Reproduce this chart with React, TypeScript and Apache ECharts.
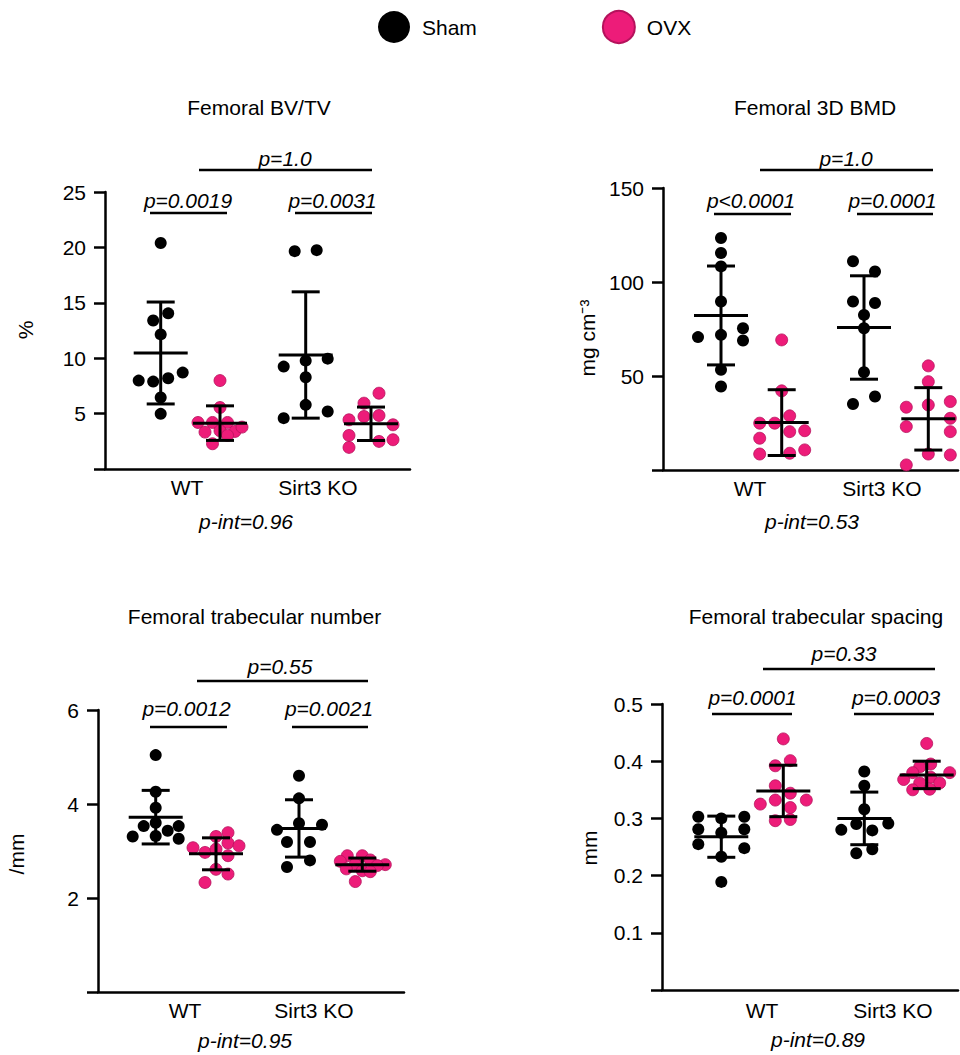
import React, { useEffect, useRef } from 'react';
import * as echarts from 'echarts';

// ---------- Data ----------
const genotypes = ['WT', 'Sirt3 KO'];
const groupNames = ['Sham', 'OVX'];

// Femoral BV/TV (%)
const bvtvWTSham = [20.4, 14.05, 13.4, 12.15, 7.98, 7.89, 8.19, 8.7, 6.45, 4.98];
const bvtvWTOvx = [7.98, 5.55, 4.2, 4.2, 4.2, 3.33, 3.45, 3.39, 3.03, 3.78, 2.28];
const bvtvKOSham = [19.66, 19.75, 9.24, 9.78, 9.96, 8.28, 5.79, 5.19, 4.59];
const bvtvKOOvx = [6.84, 5.94, 4.44, 4.74, 4.83, 3.99, 3.03, 2.49, 2.64, 1.95];
const bvtvMean = [10.47, 4.14, 10.29, 4.08];
const bvtvSD = [4.6, 1.56, 5.7, 1.51];

// Femoral 3D BMD (mg cm-3)
const bmdWTSham = [123.4, 115.4, 108.3, 89.6, 70.7, 71.9, 75.4, 68.9, 53.3, 44.4];
const bmdWTOvx = [69.2, 42.1, 28.8, 24.9, 24.9, 20.9, 20.4, 16.9, 10.7, 8.5, 8.9];
const bmdKOSham = [111.0, 105.6, 89.6, 88.8, 82.5, 75.4, 52.0, 35.1, 39.1];
const bmdKOOvx = [55.4, 47.0, 33.4, 34.6, 36.4, 23.1, 27.5, 20.4, 8.5, 8.0, 2.7];
const bmdMean = [82.2, 25.2, 75.8, 27.2];
const bmdSD = [26.3, 17.5, 27.5, 16.6];

// Femoral trabecular number (/mm)
const tbnWTSham = [5.04, 4.26, 3.92, 3.6, 3.53, 3.53, 3.43, 3.31, 3.32, 3.26];
const tbnWTOvx = [3.39, 3.31, 3.07, 2.97, 3.04, 3.17, 3.11, 2.9, 2.61, 2.51, 2.33];
const tbnKOSham = [4.6, 4.12, 3.59, 3.45, 3.56, 3.19, 3.19, 2.66, 2.8];
const tbnKOOvx = [2.9, 2.9, 2.81, 2.78, 2.72, 2.71, 2.69, 2.62, 2.58, 2.56, 2.35];
const tbnMean = [3.72, 2.94, 3.48, 2.71];
const tbnSD = [0.57, 0.34, 0.61, 0.14];

// Femoral trabecular spacing (mm)
const tbspWTSham = [0.303, 0.3, 0.303, 0.281, 0.275, 0.281, 0.255, 0.248, 0.233, 0.189];
const tbspWTOvx = [0.439, 0.401, 0.392, 0.357, 0.344, 0.325, 0.332, 0.332, 0.319, 0.296, 0.298];
const tbspKOSham = [0.382, 0.357, 0.316, 0.28, 0.29, 0.291, 0.279, 0.239, 0.246];
const tbspKOOvx = [0.431, 0.395, 0.39, 0.368, 0.38, 0.38, 0.372, 0.362, 0.362, 0.35, 0.351];
const tbspMean = [0.268, 0.348, 0.3, 0.376];
const tbspSD = [0.036, 0.045, 0.046, 0.024];

// p-value texts
const bvtvP = ['p=0.0019', 'p=0.0031', 'p=1.0', 'p-int=0.96'];
const bmdP = ['p<0.0001', 'p=0.0001', 'p=1.0', 'p-int=0.53'];
const tbnP = ['p=0.0012', 'p=0.0021', 'p=0.55', 'p-int=0.95'];
const tbspP = ['p=0.0001', 'p=0.0003', 'p=0.33', 'p-int=0.89'];

// ---------- Layout (horizontal jitter of dots, px) ----------
const bvtvJit = [
  [0, 7.5, -7.5, 0, -22, -7.5, 7.5, 22, 0, 0],
  [0, 0, -22, -7.5, 7.5, -15, 0, 15, 7.5, 22, -7.5],
  [-11, 11, -22, 0, 22, 0, 0, 22, -22],
  [8, -7, -22, -7, 8, 22, -22, 8, 22, -22],
];
const bmdJit = [
  [0, 0, 0, 0, -23, 0, 22, 22, 0, 0],
  [0, 0, 8, -22, -7, 23, 8, -22, 23, -22, 8],
  [-11, 11, -11, 11, 0, 0, 0, -11, 11],
  [0, 0, -22, 0, 22, -22, 22, 22, 0, 22, -22],
];
const tbnJit = [
  [0, 0, 0, 0, -12, 23, 12, -23, 0, 23],
  [12, 0, -23, -11, 0, 12, 23, 12, 0, 12, -11],
  [0, 0, 0, -22, 23, -12, 11, -12, 11],
  [-15, 0, 8, -22, -7, 23, 15, -16, 0, 8, -7],
];
const tbspJit = [
  [-23, 0, 23, -23, 0, 23, -23, 23, 0, 0],
  [0, 7, -8, -8, 7, -23, -8, 23, 7, -8, 7],
  [0, 0, 0, -23, -8, 24, 8, -8, 8],
  [0, 4, -7, -23, -14, 23, 4, -7, 13, -14, 3],
];

const FONT = '"Liberation Sans", Arial, Helvetica, sans-serif';
const FS = 21;
const PINK = '#ED1C79';
const PINK_BORDER = '#B5125C';

interface Panel {
  title: string;
  yName: string;
  groups: number[][];
  jit: number[][];
  mean: number[];
  sd: number[];
  p: string[];
  yMax: number;
  yInterval: number;
  decimals: number;
  grid: { left: number; top: number; width: number; height: number };
  centers: number[];
  labelPos: number[];
  labelMargin: number;
  titleXY: [number, number];
  pTopXY: [number, number];
  topLine: [number, number, number];
  pLeftXY: [number, number];
  pRightXY: [number, number];
  leftLine: [number, number, number];
  rightLine: [number, number, number];
  pIntXY: [number, number];
  yNameXY: [number, number];
}

const panels: Panel[] = [
  {
    title: 'Femoral BV/TV', yName: '%',
    groups: [bvtvWTSham, bvtvWTOvx, bvtvKOSham, bvtvKOOvx], jit: bvtvJit,
    mean: bvtvMean, sd: bvtvSD, p: bvtvP, yMax: 25, yInterval: 5, decimals: 0,
    grid: { left: 105, top: 192, width: 305, height: 277 },
    centers: [55.7, 115, 200.7, 266], labelPos: [82, 213], labelMargin: 8,
    titleXY: [259, 107], pTopXY: [285, 158], topLine: [199, 372, 170],
    pLeftXY: [188, 200], pRightXY: [332.5, 200], leftLine: [150, 227, 213], rightLine: [295, 372, 213],
    pIntXY: [246, 521], yNameXY: [25, 330],
  },
  {
    title: 'Femoral 3D BMD', yName: 'mg cm\u207B\u00B3',
    groups: [bmdWTSham, bmdWTOvx, bmdKOSham, bmdKOOvx], jit: bmdJit,
    mean: bmdMean, sd: bmdSD, p: bmdP, yMax: 150, yInterval: 50, decimals: 0,
    grid: { left: 663, top: 188, width: 295, height: 282 },
    centers: [58, 118.7, 201, 265.3], labelPos: [87, 219], labelMargin: 8,
    titleXY: [815, 107], pTopXY: [846, 158], topLine: [760, 933, 170],
    pLeftXY: [751, 200], pRightXY: [892.5, 200], leftLine: [714, 791, 214], rightLine: [857, 933, 214],
    pIntXY: [812, 521], yNameXY: [587, 338],
  },
  {
    title: 'Femoral trabecular number', yName: '/mm',
    groups: [tbnWTSham, tbnWTOvx, tbnKOSham, tbnKOOvx], jit: tbnJit,
    mean: tbnMean, sd: tbnSD, p: tbnP, yMax: 6, yInterval: 2, decimals: 0,
    grid: { left: 98, top: 710, width: 306, height: 282 },
    centers: [57.7, 118, 201, 264.3], labelPos: [87, 216], labelMargin: 8,
    titleXY: [254.5, 616], pTopXY: [280, 666], topLine: [197, 368, 681],
    pLeftXY: [186.5, 708], pRightXY: [329, 708], leftLine: [150, 227, 727], rightLine: [292, 368, 727],
    pIntXY: [245, 1040], yNameXY: [16, 854],
  },
  {
    title: 'Femoral trabecular spacing', yName: 'mm',
    groups: [tbspWTSham, tbspWTOvx, tbspKOSham, tbspKOOvx], jit: tbspJit,
    mean: tbspMean, sd: tbspSD, p: tbspP, yMax: 0.5, yInterval: 0.1, decimals: 1,
    grid: { left: 662, top: 704, width: 296, height: 286 },
    centers: [59.3, 121.3, 202.3, 264.7], labelPos: [100, 231], labelMargin: 10,
    titleXY: [816, 616], pTopXY: [844, 653], topLine: [763, 935, 669],
    pLeftXY: [752.5, 697.5], pRightXY: [896, 697.5], leftLine: [712, 792, 714], rightLine: [854, 934, 714],
    pIntXY: [818, 1039], yNameXY: [589, 848],
  },
];

function buildOption() {
  const grid: any[] = [];
  const xAxis: any[] = [];
  const yAxis: any[] = [];
  const series: any[] = [];
  const graphic: any[] = [];
  const axisLineStyle = { color: '#000', width: 2.5 };

  const txt = (text: string, x: number, y: number, italic = false, rotation = 0) => ({
    type: 'text', x, y, rotation, silent: true,
    style: {
      text, fill: '#000', font: `${italic ? 'italic ' : ''}${FS}px ${FONT}`,
      align: 'center', verticalAlign: 'middle',
    },
  });
  const hline = (l: [number, number, number]) => ({
    type: 'line', silent: true,
    shape: { x1: l[0], y1: l[2], x2: l[1], y2: l[2] },
    style: { stroke: '#000', lineWidth: 2.5 },
  });

  panels.forEach((pn, i) => {
    grid.push({ ...pn.grid, containLabel: false });
    const lp = pn.labelPos;
    xAxis.push({
      gridIndex: i, type: 'value', min: 0, max: pn.grid.width,
      axisLine: { show: true, onZero: false, lineStyle: axisLineStyle },
      axisTick: { show: false }, splitLine: { show: false },
      axisLabel: {
        customValues: lp,
        formatter: (v: number) => (Math.abs(v - lp[0]) < 0.01 ? genotypes[0] : genotypes[1]),
        margin: pn.labelMargin, fontSize: FS, color: '#000', fontFamily: FONT,
      },
    });
    yAxis.push({
      gridIndex: i, type: 'value', min: 0, max: pn.yMax, interval: pn.yInterval,
      axisLine: { show: true, lineStyle: axisLineStyle },
      axisTick: { show: true, length: 11, lineStyle: axisLineStyle },
      splitLine: { show: false },
      axisLabel: {
        formatter: (v: number) => (v === 0 ? '' : v.toFixed(pn.decimals)),
        margin: 19, fontSize: FS, color: '#000', fontFamily: FONT,
      },
    });
    const pts = (gi: number) =>
      pn.groups[gi].map((v, k) => [pn.centers[gi] + pn.jit[gi][k], v]);
    series.push({
      name: groupNames[0], type: 'scatter', xAxisIndex: i, yAxisIndex: i,
      symbol: 'circle', symbolSize: 12, z: 2,
      itemStyle: { color: '#000', opacity: 1 },
      data: [...pts(0), ...pts(2)],
    });
    series.push({
      name: groupNames[1], type: 'scatter', xAxisIndex: i, yAxisIndex: i,
      symbol: 'circle', symbolSize: 12, z: 2,
      itemStyle: { color: PINK, borderColor: PINK_BORDER, borderWidth: 0.8, opacity: 1 },
      data: [...pts(1), ...pts(3)],
    });
    series.push({
      type: 'custom', xAxisIndex: i, yAxisIndex: i, z: 3, silent: true,
      encode: { x: 0, y: 1 },
      data: pn.mean.map((m, gi) => [pn.centers[gi], m, pn.sd[gi]]),
      renderItem: (params: any, api: any) => {
        const x = api.value(0), m = api.value(1), s = api.value(2);
        const c = api.coord([x, m]);
        const t = api.coord([x, m + s]);
        const b = api.coord([x, m - s]);
        const style = { stroke: '#000', lineWidth: 3, fill: 'none' };
        return {
          type: 'group',
          children: [
            { type: 'line', shape: { x1: c[0] - 27, y1: c[1], x2: c[0] + 27, y2: c[1] }, style },
            { type: 'line', shape: { x1: t[0], y1: t[1], x2: b[0], y2: b[1] }, style },
            { type: 'line', shape: { x1: t[0] - 14, y1: t[1], x2: t[0] + 14, y2: t[1] }, style },
            { type: 'line', shape: { x1: b[0] - 14, y1: b[1], x2: b[0] + 14, y2: b[1] }, style },
          ],
        };
      },
    });

    graphic.push(txt(pn.title, pn.titleXY[0], pn.titleXY[1]));
    graphic.push(txt(pn.p[2], pn.pTopXY[0], pn.pTopXY[1], true));
    graphic.push(hline(pn.topLine));
    graphic.push(txt(pn.p[0], pn.pLeftXY[0], pn.pLeftXY[1], true));
    graphic.push(txt(pn.p[1], pn.pRightXY[0], pn.pRightXY[1], true));
    graphic.push(hline(pn.leftLine));
    graphic.push(hline(pn.rightLine));
    graphic.push(txt(pn.p[3], pn.pIntXY[0], pn.pIntXY[1], true));
    graphic.push(txt(pn.yName, pn.yNameXY[0], pn.yNameXY[1], false, Math.PI / 2));
  });

  return {
    animation: false,
    backgroundColor: '#fff',
    textStyle: { fontFamily: FONT },
    legend: {
      data: groupNames, top: 5, left: 373, icon: 'circle',
      itemWidth: 32, itemHeight: 32, itemGap: 125,
      textStyle: { fontSize: FS, color: '#000', fontFamily: FONT, padding: [0, 0, 0, 7] },
      selectedMode: false,
    },
    grid, xAxis, yAxis, series, graphic,
  };
}

export default function App() {
  const ref = useRef<HTMLDivElement>(null);
  useEffect(() => {
    if (!ref.current) return;
    const chart = echarts.init(ref.current, null, { renderer: 'svg' });
    chart.setOption(buildOption() as any);
    return () => chart.dispose();
  }, []);
  return (
    <div
      ref={ref}
      style={{ position: 'absolute', left: 0, top: 0, width: 960, height: 1055, background: '#fff' }}
    />
  );
}
